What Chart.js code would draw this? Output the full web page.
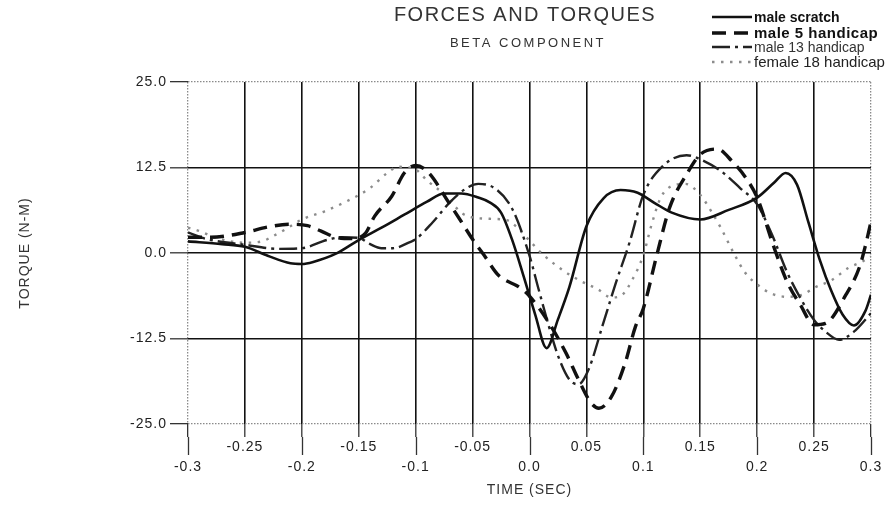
<!DOCTYPE html>
<html>
<head>
<meta charset="utf-8">
<title>Forces and torques - beta component</title>
<script src="https://cdn.jsdelivr.net/npm/chart.js@4.4.0/dist/chart.umd.min.js"></script>
<style>
  body { margin: 0; background: #fff; }
  #wrap { width: 891px; height: 521px; }
</style>
</head>
<body>
<div id="wrap"><canvas id="torqueChart"></canvas></div>
<script>
// values (time in sec, torque in N-M)
const seriesNames = ["male scratch", "male 5 handicap", "male 13 handicap", "female 18 handicap"];

const scratchTime = [-0.30, -0.27, -0.25, -0.23, -0.21, -0.20, -0.19, -0.17, -0.15, -0.13, -0.11, -0.09, -0.075, -0.06, -0.045, -0.035, -0.025, -0.015, -0.005, 0.005, 0.015, 0.025, 0.035, 0.05, 0.065, 0.08, 0.095, 0.11, 0.125, 0.15, 0.175, 0.20, 0.215, 0.225, 0.235, 0.245, 0.255, 0.265, 0.275, 0.285, 0.295, 0.30];
const scratchTorque = [1.7, 1.3, 0.9, -0.4, -1.5, -1.6, -1.3, -0.1, 1.9, 3.7, 5.6, 7.5, 8.7, 8.7, 8.1, 7.4, 5.9, 1.8, -3.5, -9.0, -13.9, -9.7, -5.0, 3.9, 8.0, 9.2, 8.8, 7.3, 5.9, 4.9, 6.3, 8.1, 10.3, 11.7, 10.0, 4.5, -1.0, -5.5, -9.0, -10.6, -8.5, -6.1];

const male5Time = [-0.30, -0.28, -0.25, -0.23, -0.21, -0.195, -0.183, -0.17, -0.155, -0.144, -0.136, -0.121, -0.11, -0.10, -0.089, -0.071, -0.06, -0.05, -0.04, -0.027, -0.009, 0.0, 0.017, 0.032, 0.043, 0.054, 0.061, 0.072, 0.084, 0.093, 0.10, 0.112, 0.123, 0.138, 0.15, 0.165, 0.178, 0.19, 0.20, 0.214, 0.226, 0.238, 0.25, 0.26, 0.278, 0.29, 0.295, 0.30];
const male5Torque = [2.3, 2.3, 3.0, 3.8, 4.2, 4.0, 3.2, 2.3, 2.1, 2.9, 5.4, 8.3, 11.7, 12.8, 11.8, 7.4, 4.6, 2.0, -0.3, -3.3, -5.0, -6.3, -10.2, -14.6, -18.5, -21.9, -22.7, -21.0, -16.1, -10.8, -8.1, -0.2, 6.6, 11.5, 14.4, 15.2, 13.4, 11.0, 8.1, 1.2, -4.1, -7.6, -10.5, -10.3, -6.1, -2.0, 1.0, 4.6];

const male13Time = [-0.30, -0.285, -0.25, -0.22, -0.20, -0.178, -0.165, -0.15, -0.14, -0.13, -0.12, -0.105, -0.10, -0.085, -0.07, -0.056, -0.045, -0.03, -0.015, 0.0, 0.008, 0.017, 0.025, 0.035, 0.043, 0.052, 0.064, 0.076, 0.088, 0.10, 0.117, 0.138, 0.15, 0.168, 0.185, 0.20, 0.213, 0.226, 0.238, 0.25, 0.26, 0.272, 0.285, 0.30];
const male13Torque = [3.0, 2.1, 1.2, 0.6, 0.7, 1.9, 2.3, 2.2, 1.3, 0.7, 0.7, 1.6, 2.0, 4.5, 7.4, 9.4, 10.1, 9.4, 6.4, -0.4, -5.3, -10.7, -15.0, -18.5, -19.2, -17.0, -10.7, -4.3, 1.6, 8.5, 12.7, 14.3, 13.7, 12.0, 9.5, 7.1, 2.7, -2.7, -6.6, -9.8, -11.5, -12.7, -11.5, -8.8];

const female18Time = [-0.30, -0.29, -0.275, -0.25, -0.235, -0.225, -0.215, -0.20, -0.18, -0.16, -0.14, -0.125, -0.115, -0.10, -0.09, -0.073, -0.06, -0.05, -0.035, -0.02, -0.01, 0.0, 0.013, 0.03, 0.045, 0.06, 0.072, 0.08, 0.09, 0.10, 0.107, 0.115, 0.125, 0.137, 0.15, 0.16, 0.168, 0.18, 0.19, 0.20, 0.212, 0.226, 0.24, 0.25, 0.266, 0.28, 0.293, 0.30];
const female18Torque = [3.7, 3.2, 2.2, 1.5, 1.7, 2.5, 3.4, 4.9, 6.1, 7.6, 9.5, 11.7, 12.6, 12.2, 10.6, 8.3, 5.9, 5.2, 5.0, 4.8, 3.6, 1.8, -0.4, -2.6, -4.1, -5.3, -6.5, -6.3, -4.0, -0.3, 4.0, 8.0, 9.8, 10.1, 8.5, 6.0, 3.7, -0.2, -3.0, -4.6, -5.9, -6.4, -6.1, -5.1, -3.9, -2.2, -1.2, -0.5];

const FONT = "'Liberation Sans', Arial, sans-serif";

function toPoints(times, values) {
  return times.map((t, i) => ({ x: t, y: values[i] }));
}

function isMajorTime(v) {
  return Math.round(v * 100) % 10 === 0;
}

function isEdge(v, lim) {
  return Math.abs(Math.abs(v) - lim) < 1e-6;
}

// title, subtitle, legend and the long ticks under every 0.1 sec
const decorPlugin = {
  id: "decor",
  beforeDraw(chart) {
    chart.ctx.letterSpacing = "1px";
  },
  afterDraw(chart) {
    const ctx = chart.ctx;
    const xs = chart.scales.x;
    ctx.save();

    ctx.strokeStyle = "#333";
    ctx.lineWidth = 1.3;
    xs.ticks.forEach(t => {
      if (!isMajorTime(t.value)) return;
      const px = Math.round(xs.getPixelForValue(t.value)) + 0.5;
      ctx.beginPath();
      ctx.moveTo(px, xs.top + 13);
      ctx.lineTo(px, xs.top + 31);
      ctx.stroke();
    });

    ctx.fillStyle = "#333";
    ctx.textAlign = "center";
    ctx.textBaseline = "middle";
    ctx.letterSpacing = "1.5px";
    ctx.font = "20px " + FONT;
    ctx.fillText("FORCES AND TORQUES", 525, 15);
    ctx.letterSpacing = "2.5px";
    ctx.font = "13px " + FONT;
    ctx.fillText("BETA COMPONENT", 528, 43);

    const rowY = [17, 33, 47, 62];
    const rowFont = ["bold 14px ", "bold 15px ", "14px ", "15px "];
    const rowSpacing = ["0px", "0.5px", "0px", "0px"];
    const rowColor = ["#111", "#111", "#333", "#222"];
    ctx.textAlign = "left";
    chart.data.datasets.forEach((ds, i) => {
      ctx.strokeStyle = ds.borderColor;
      ctx.lineWidth = ds.borderWidth;
      ctx.setLineDash(ds.borderDash);
      ctx.beginPath();
      ctx.moveTo(712, rowY[i]);
      ctx.lineTo(752, rowY[i]);
      ctx.stroke();
      ctx.setLineDash([]);
      ctx.fillStyle = rowColor[i];
      ctx.letterSpacing = rowSpacing[i];
      ctx.font = rowFont[i] + FONT;
      ctx.fillText(ds.label, 754, rowY[i] + 1);
    });
    ctx.restore();
  }
};

const ctx = document.getElementById("torqueChart").getContext("2d");

new Chart(ctx, {
  type: "line",
  data: {
    datasets: [
      {
        label: seriesNames[0],
        data: toPoints(scratchTime, scratchTorque),
        borderColor: "#111",
        borderWidth: 2.6,
        borderDash: []
      },
      {
        label: seriesNames[1],
        data: toPoints(male5Time, male5Torque),
        borderColor: "#111",
        borderWidth: 3.4,
        borderDash: [14, 8]
      },
      {
        label: seriesNames[2],
        data: toPoints(male13Time, male13Torque),
        borderColor: "#222",
        borderWidth: 2.4,
        borderDash: [18, 5, 3, 5]
      },
      {
        label: seriesNames[3],
        data: toPoints(female18Time, female18Torque),
        borderColor: "#8c8c8c",
        borderWidth: 2.4,
        borderDash: [2.5, 6.5]
      }
    ]
  },
  options: {
    responsive: true,
    maintainAspectRatio: false,
    animation: false,
    events: [],
    layout: { padding: { top: 82, right: 20, left: 0, bottom: 0 } },
    elements: {
      point: { radius: 0 },
      line: { cubicInterpolationMode: "monotone", fill: false }
    },
    plugins: {
      legend: { display: false },
      tooltip: { enabled: false },
      title: { display: false }
    },
    scales: {
      x: {
        type: "linear",
        min: -0.3,
        max: 0.3,
        afterFit: scale => { scale.height = 97; },
        ticks: {
          stepSize: 0.05,
          autoSkip: false,
          maxRotation: 0,
          padding: 0,
          color: "#222",
          font: { family: FONT, size: 14, lineHeight: 1.43 },
          callback: v => {
            if (Math.abs(v) < 1e-9) return ["", "0.0"];
            return isMajorTime(v) ? ["", v.toFixed(1)] : v.toFixed(2);
          }
        },
        grid: {
          color: c => isEdge(c.tick.value, 0.3) ? "#8a8a8a" : "#111",
          lineWidth: c => isEdge(c.tick.value, 0.3) ? 1.3 : 1.6,
          tickLength: 13,
          tickColor: "#333",
          tickWidth: 1.3
        },
        border: {
          display: false,
          dash: c => isEdge(c.tick.value, 0.3) ? [1.5, 1.5] : []
        },
        title: {
          display: true,
          text: "TIME (SEC)",
          color: "#333",
          font: { family: FONT, size: 14 },
          padding: { top: 0, bottom: 22 }
        }
      },
      y: {
        min: -25,
        max: 25,
        afterFit: scale => { scale.width = 188; },
        ticks: {
          stepSize: 12.5,
          padding: 3,
          color: "#222",
          font: { family: FONT, size: 14 },
          callback: v => v.toFixed(1)
        },
        grid: {
          color: c => isEdge(c.tick.value, 25) ? "#8a8a8a" : "#111",
          lineWidth: c => isEdge(c.tick.value, 25) ? 1.3 : 1.6,
          tickLength: 18,
          tickColor: "#333",
          tickWidth: 1.3
        },
        border: {
          display: false,
          dash: c => isEdge(c.tick.value, 25) ? [1.5, 1.5] : []
        },
        title: {
          display: true,
          text: "TORQUE (N-M)",
          color: "#333",
          font: { family: FONT, size: 14 },
          padding: { top: 17, bottom: 0 }
        }
      }
    }
  },
  plugins: [decorPlugin]
});
</script>
</body>
</html>
